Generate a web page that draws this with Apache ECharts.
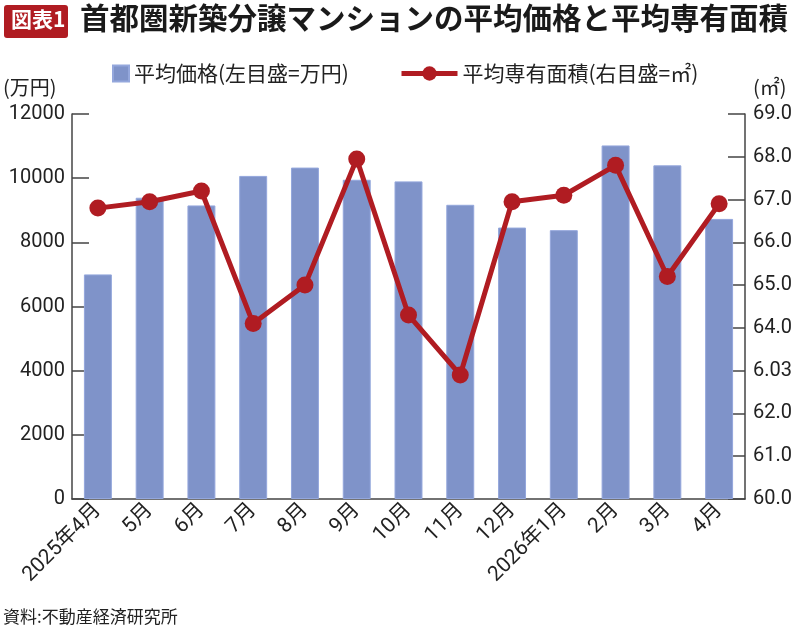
<!DOCTYPE html>
<html>
<head>
<meta charset="utf-8">
<script src="https://cdn.jsdelivr.net/npm/echarts@6/dist/echarts.min.js"></script>
<style>
  html, body { margin: 0; padding: 0; background: #fff; }
  #main { width: 800px; height: 631px; }
</style>
</head>
<body>
<div id="main"></div>
<script>
// 月
var months = ['2025年4月', '5月', '6月', '7月', '8月', '9月', '10月', '11月', '12月', '2026年1月', '2月', '3月', '4月'];
// 平均価格（万円）
var avgPrice = [7000, 9390, 9150, 10070, 10330, 9950, 9900, 9170, 8460, 8380, 11020, 10400, 8730];
// 平均専有面積（㎡）
var avgArea = [66.8, 66.95, 67.2, 64.1, 65.0, 67.95, 64.3, 62.9, 66.95, 67.1, 67.8, 65.2, 66.9];
// 右目盛ラベル（原図のまま）
var rightTicks = ['60.0', '61.0', '62.0', '6.03', '64.0', '65.0', '66.0', '67.0', '68.0', '69.0'];

var JP = '"Noto Sans CJK JP", sans-serif';
var NUM = 'Roboto, "Noto Sans CJK JP", sans-serif';
var BAR = '#7f93c9';
var RED = '#b01c22';

var chart = echarts.init(document.getElementById('main'), null, { renderer: 'canvas' });

chart.setOption({
    backgroundColor: '#fff',
    animation: false,
    textStyle: { fontFamily: JP, color: '#222' },
    graphic: [
        { type: 'rect', left: 4, top: 5, shape: { width: 64, height: 33, r: 3 }, style: { fill: RED } },
        { type: 'text', left: 11, top: 9, style: { text: '図表1', fill: '#fff', font: 'bold 21px ' + JP } },
        { type: 'text', left: 80, top: 3, style: { text: '首都圏新築分譲マンションの平均価格と平均専有面積', fill: '#1a1a1a', font: 'bold 29.5px ' + JP } },
        { type: 'text', left: 3, top: 77, style: { text: '(万円)', fill: '#222', font: '20px ' + JP } },
        { type: 'text', left: 753, top: 77, style: { text: '(㎡)', fill: '#222', font: '20px ' + JP } },
        { type: 'text', left: 3, top: 608, style: { text: '資料:不動産経済研究所', fill: '#222', font: '17px ' + JP } }
    ],
    legend: [
        {
            data: ['平均価格(左目盛=万円)'],
            left: 107, top: 58,
            itemWidth: 16, itemHeight: 16, itemGap: 4,
            icon: 'rect',
            textStyle: { fontSize: 21, color: '#222', fontFamily: JP }
        },
        {
            data: ['平均専有面積(右目盛=㎡)'],
            left: 394, top: 58,
            itemWidth: 56, itemHeight: 18, itemGap: 4,
            lineStyle: { width: 5 },
            textStyle: { fontSize: 21, color: '#222', fontFamily: JP }
        }
    ],
    grid: { left: 72, right: 55, top: 114, bottom: 132, containLabel: false },
    xAxis: {
        type: 'category',
        data: months,
        boundaryGap: true,
        axisLine: { lineStyle: { color: '#444', width: 1.5 } },
        axisTick: { show: false },
        axisLabel: { rotate: 45, interval: 0, fontSize: 21, color: '#222', fontFamily: NUM, margin: 8 }
    },
    yAxis: [
        {
            type: 'value', min: 0, max: 12000, interval: 2000,
            axisLine: { show: true, lineStyle: { color: '#444', width: 1.5 } },
            axisTick: { show: true, inside: true, length: 17, lineStyle: { color: '#444', width: 1.5 } },
            splitLine: { show: false },
            axisLabel: {
                fontSize: 20, color: '#222', fontFamily: NUM, margin: 7,
                formatter: function (v) { return String(v); }
            }
        },
        {
            type: 'value', min: 60, max: 69, interval: 1,
            axisLine: { show: true, lineStyle: { color: '#444', width: 1.5 } },
            axisTick: { show: true, inside: true, length: 17, lineStyle: { color: '#444', width: 1.5 } },
            splitLine: { show: false },
            axisLabel: {
                fontSize: 20, color: '#222', fontFamily: NUM, margin: 8,
                formatter: function (v) { return rightTicks[Math.round(v - 60)]; }
            }
        }
    ],
    series: [
        {
            name: '平均価格(左目盛=万円)',
            type: 'bar',
            data: avgPrice,
            barWidth: '54%',
            itemStyle: { color: BAR, borderColor: '#94a7dc', borderWidth: 1 }
        },
        {
            name: '平均専有面積(右目盛=㎡)',
            type: 'line',
            yAxisIndex: 1,
            data: avgArea,
            symbol: 'circle',
            symbolSize: 17,
            lineStyle: { color: RED, width: 5 },
            itemStyle: { color: RED },
            z: 5
        }
    ]
});
</script>
</body>
</html>
